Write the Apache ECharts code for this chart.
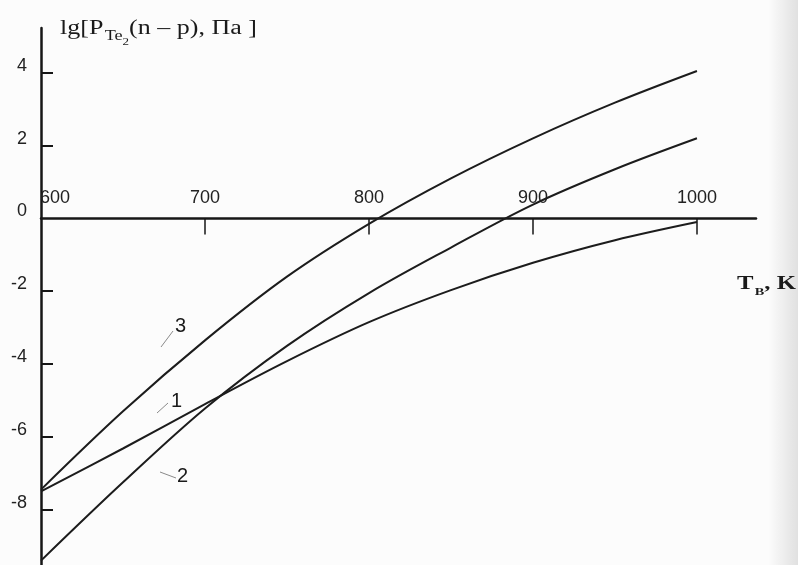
<!DOCTYPE html>
<html>
<head>
<meta charset="utf-8">
<script src="https://cdn.jsdelivr.net/npm/echarts@6/dist/echarts.min.js"></script>
<style>
  html, body { margin: 0; padding: 0; background: #fcfcfc; }
  #chart { width: 798px; height: 565px; }
</style>
</head>
<body>
<div id="chart"></div>
<script>
// Temperature of the source, K
const temperatures = [600, 650, 700, 750, 800, 850, 900, 950, 1000];
// lg of Te2 pressure (Pa) for the three curves
const curve1 = [-7.5, -6.32, -5.1, -3.92, -2.85, -1.97, -1.22, -0.6, -0.1];
const curve2 = [-9.4, -7.25, -5.22, -3.5, -2.05, -0.8, 0.38, 1.35, 2.2];
const curve3 = [-7.45, -5.3, -3.35, -1.6, -0.15, 1.1, 2.2, 3.18, 4.05];
const curveNames = ['1', '2', '3'];

const xTickLabels = [600, 700, 800, 900, 1000];
const xTickMarks = [700, 800, 900, 1000];
const yTickLabels = [-8, -6, -4, -2, 0, 2, 4];
const yTickMarks = [-8, -6, -4, -2, 2, 4];

const toPairs = (vals) => temperatures.map((t, i) => [t, vals[i]]);

const labelFont = '"Liberation Sans", Arial, sans-serif';
const serifFont = '"Liberation Serif", "Times New Roman", serif';
const ink = '#161616';

// plot area and value ranges
const gridTop = 28, gridHeight = 537;
const yMin = -9.52, yMax = 5.23;
// shift the temperature axis up so that it runs along lg P = 0
const zeroY = gridTop + gridHeight * yMax / (yMax - yMin);
const xAxisOffset = -(gridTop + gridHeight - zeroY);

const lineSeries = (name, vals) => ({
  name: name,
  type: 'line',
  data: toPairs(vals),
  smooth: 0.35,
  symbol: 'none',
  lineStyle: { color: '#1c1c1c', width: 2 },
  z: 3
});

const chart = echarts.init(document.getElementById('chart'), null, { renderer: 'canvas' });

chart.setOption({
  backgroundColor: '#fcfcfc',
  animation: false,
  grid: { left: 41, top: gridTop, width: 715, height: gridHeight, containLabel: false },
  xAxis: {
    type: 'value',
    position: 'bottom',
    offset: xAxisOffset,
    min: 600,
    max: 1036,
    interval: 100,
    splitLine: { show: false },
    axisLine: { onZero: false, lineStyle: { color: ink, width: 2.5 } },
    axisTick: {
      show: true, inside: false, length: 16,
      customValues: xTickMarks,
      lineStyle: { color: ink, width: 1.5 }
    },
    axisLabel: {
      inside: true,
      margin: 11,
      customValues: xTickLabels,
      color: '#222',
      fontFamily: labelFont,
      fontSize: 18,
      formatter: (v) => v === 600 ? '{first|600}' : String(v),
      rich: { first: { fontFamily: labelFont, fontSize: 18, color: '#222', padding: [0, 0, 0, 28] } }
    }
  },
  yAxis: {
    type: 'value',
    min: yMin,
    max: yMax,
    splitLine: { show: false },
    axisLine: { onZero: false, lineStyle: { color: ink, width: 2.5 } },
    axisTick: {
      show: true, inside: true, length: 12,
      customValues: yTickMarks,
      lineStyle: { color: ink, width: 2 }
    },
    axisLabel: {
      margin: 14,
      customValues: yTickLabels,
      color: '#222',
      fontFamily: labelFont,
      fontSize: 18,
      lineHeight: 14,
      verticalAlign: 'bottom'
    }
  },
  series: [
    lineSeries(curveNames[0], curve1),
    lineSeries(curveNames[1], curve2),
    lineSeries(curveNames[2], curve3)
  ],
  graphic: [
    // faint darker band along the right page edge
    {
      type: 'rect', silent: true, z: 0,
      shape: { x: 768, y: 0, width: 30, height: 565 },
      style: {
        fill: new echarts.graphic.LinearGradient(0, 0, 1, 0, [
          { offset: 0, color: 'rgba(0,0,0,0)' },
          { offset: 1, color: 'rgba(0,0,0,0.11)' }
        ])
      }
    },
    // y-axis title
    {
      type: 'text', x: 60, y: 19, scaleX: 1.3, z: 10,
      style: {
        text: '{m|lg[P}{s|Te}{ss|2}{m|(n – p), Па ]}',
        rich: {
          m: { fontFamily: serifFont, fontSize: 20, lineHeight: 22, verticalAlign: 'top', fill: '#1a1a1a' },
          s: { fontFamily: serifFont, fontSize: 14, lineHeight: 15, verticalAlign: 'top', padding: [10, 0, 0, 1], fill: '#1a1a1a' },
          ss: { fontFamily: serifFont, fontSize: 10, lineHeight: 10, verticalAlign: 'top', padding: [18, 0, 0, 0], fill: '#1a1a1a' }
        }
      }
    },
    // x-axis title
    {
      type: 'text', x: 737, y: 275, scaleX: 1.3, z: 10,
      style: {
        text: '{m|T}{s|В}{m|, K}',
        rich: {
          m: { fontFamily: serifFont, fontWeight: 'bold', fontSize: 19, lineHeight: 20, verticalAlign: 'top', fill: '#1a1a1a' },
          s: { fontFamily: serifFont, fontWeight: 'bold', fontSize: 11, lineHeight: 12, verticalAlign: 'top', padding: [12, 0, 0, 1], fill: '#1a1a1a' }
        }
      }
    },
    // curve numbers with their leader strokes
    { type: 'line', shape: { x1: 161, y1: 347, x2: 173, y2: 331 }, style: { stroke: '#8a8a8a', lineWidth: 1 } },
    { type: 'text', x: 175, y: 316, style: { text: '3', font: '20px "Liberation Sans", Arial, sans-serif', fill: '#1a1a1a' } },
    { type: 'line', shape: { x1: 157, y1: 413, x2: 168, y2: 403 }, style: { stroke: '#8a8a8a', lineWidth: 1 } },
    { type: 'text', x: 171, y: 391, style: { text: '1', font: '20px "Liberation Sans", Arial, sans-serif', fill: '#1a1a1a' } },
    { type: 'line', shape: { x1: 160, y1: 472, x2: 176, y2: 478 }, style: { stroke: '#8a8a8a', lineWidth: 1 } },
    { type: 'text', x: 177, y: 466, style: { text: '2', font: '20px "Liberation Sans", Arial, sans-serif', fill: '#1a1a1a' } }
  ]
});
</script>
</body>
</html>
